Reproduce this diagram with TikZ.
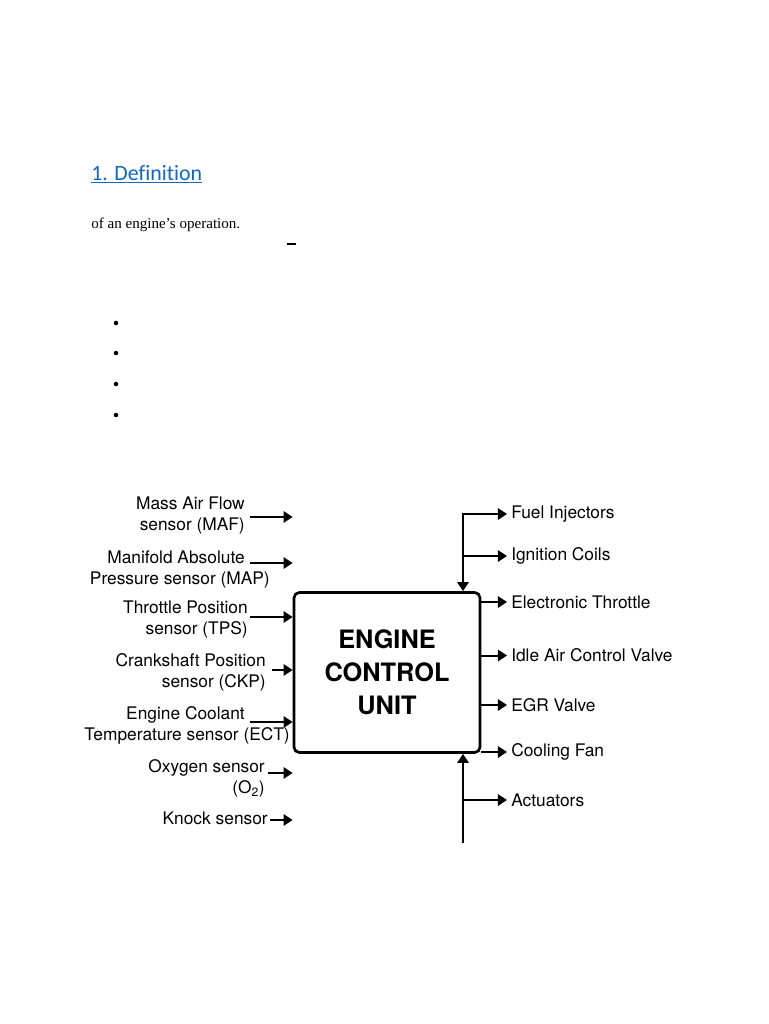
\documentclass[tikz,border=0pt]{standalone}
\usepackage{fontspec}
\usetikzlibrary{arrows.meta}
\newfontfamily\headfont[Ligatures=NoCommon]{Carlito}
\newfontfamily\bodyfont{Liberation Serif}
\newfontfamily\diagfont{TeX Gyre Heros}
\definecolor{headblue}{RGB}{17,104,196}
\begin{document}
\begin{tikzpicture}[
    x=0.75pt, y=-0.75pt,
    head/.style={
        anchor=base west,
        inner sep=0pt,
        text=headblue,
        font=\headfont\fontsize{16.4}{19}\selectfont
    },
    body/.style={
        anchor=base west,
        inner sep=0pt,
        font=\bodyfont\fontsize{11.3}{13}\selectfont
    },
    unit/.style={
        draw,
        line width=2pt,
        rounded corners=4pt,
        minimum width=139.5pt,
        minimum height=120pt,
        align=center,
        font=\diagfont\bfseries\fontsize{19}{24.75}\selectfont
    },
    sensor/.style={
        anchor=east,
        inner sep=0pt,
        align=right,
        font=\diagfont\fontsize{13}{15.75}\selectfont
    },
    output/.style={
        anchor=west,
        inner xsep=3pt,
        inner ysep=0pt,
        font=\diagfont\fontsize{13}{15.75}\selectfont
    },
    feed/.style={
        -{Triangle[length=6.8pt,width=8.5pt]},
        line width=1.5pt
    },
    twoway/.style={
        {Triangle[length=6.8pt,width=8.5pt]}-{Triangle[length=6.8pt,width=8.5pt]},
        line width=1.5pt
    }
]

\fill[white] (0,0) rectangle (768,1024);

\node[head] (def) at (91,180) {\underline{1. Definition}};
\node[body] (intro) at (91,228) {of an engine’s operation.};
\draw[line width=0.8pt] (287,244) -- (296,244);
\foreach \y in {323,353,384,415}
    \fill (116,\y) circle (1.7pt);

\node[unit] (ecu) at (387,672.5) {ENGINE\\CONTROL\\UNIT};

\node[sensor] (maf) at (245,516) {Mass Air Flow\\sensor (MAF)};
\node[sensor] (map) at (270,569.5) {Manifold Absolute\hspace*{18.75pt}\\Pressure sensor (MAP)};
\node[sensor] (tps) at (248,620) {Throttle Position\\sensor (TPS)};
\node[sensor] (ckp) at (266,672.5) {Crankshaft Position\\sensor (CKP)};
\node[sensor] (ect) at (290,725) {Engine Coolant\hspace*{33.75pt}\\Temperature sensor (ECT)};
\node[sensor] (o2) at (265,778) {Oxygen sensor\\(O\textsubscript{2})};
\node[sensor] (knock) at (268,818.5) {Knock sensor};

\coordinate (maf tail) at (250,517);
\coordinate (map tail) at (250,563);
\coordinate (tps tail) at (250,617);
\coordinate (ckp tail) at (272,670);
\coordinate (ect tail) at (250,722);
\coordinate (o2 tail) at (268,773);
\coordinate (knock tail) at (270,820);
\foreach \s in {maf,map,tps,ckp,ect,o2,knock}
    \draw[feed] (\s\space tail) -- (\s\space tail -| ecu.west);

\node[output] (fuel) at (507,514) {Fuel Injectors};
\node[output] (ign) at (507,556) {Ignition Coils};
\node[output] (thr) at (507,602) {Electronic Throttle};
\node[output] (iac) at (507,655.5) {Idle Air Control Valve};
\node[output] (egr) at (507,705) {EGR Valve};
\node[output] (fan) at (507,752) {Cooling Fan};
\node[output] (act) at (507,800) {Actuators};

\coordinate (bus) at (463,514);
\coordinate (bus low) at (463,843);
\draw[twoway] (fuel.west) -| (ecu.north -| bus);
\draw[feed] (bus |- ign) -- (ign.west);
\foreach \o in {thr,iac,egr,fan}
    \draw[feed] (ecu.east |- \o) -- (\o.west);
\draw[feed] (bus low) -- (bus low |- ecu.south);
\draw[feed] (bus low |- act) -- (act.west);

\end{tikzpicture}
\end{document}
